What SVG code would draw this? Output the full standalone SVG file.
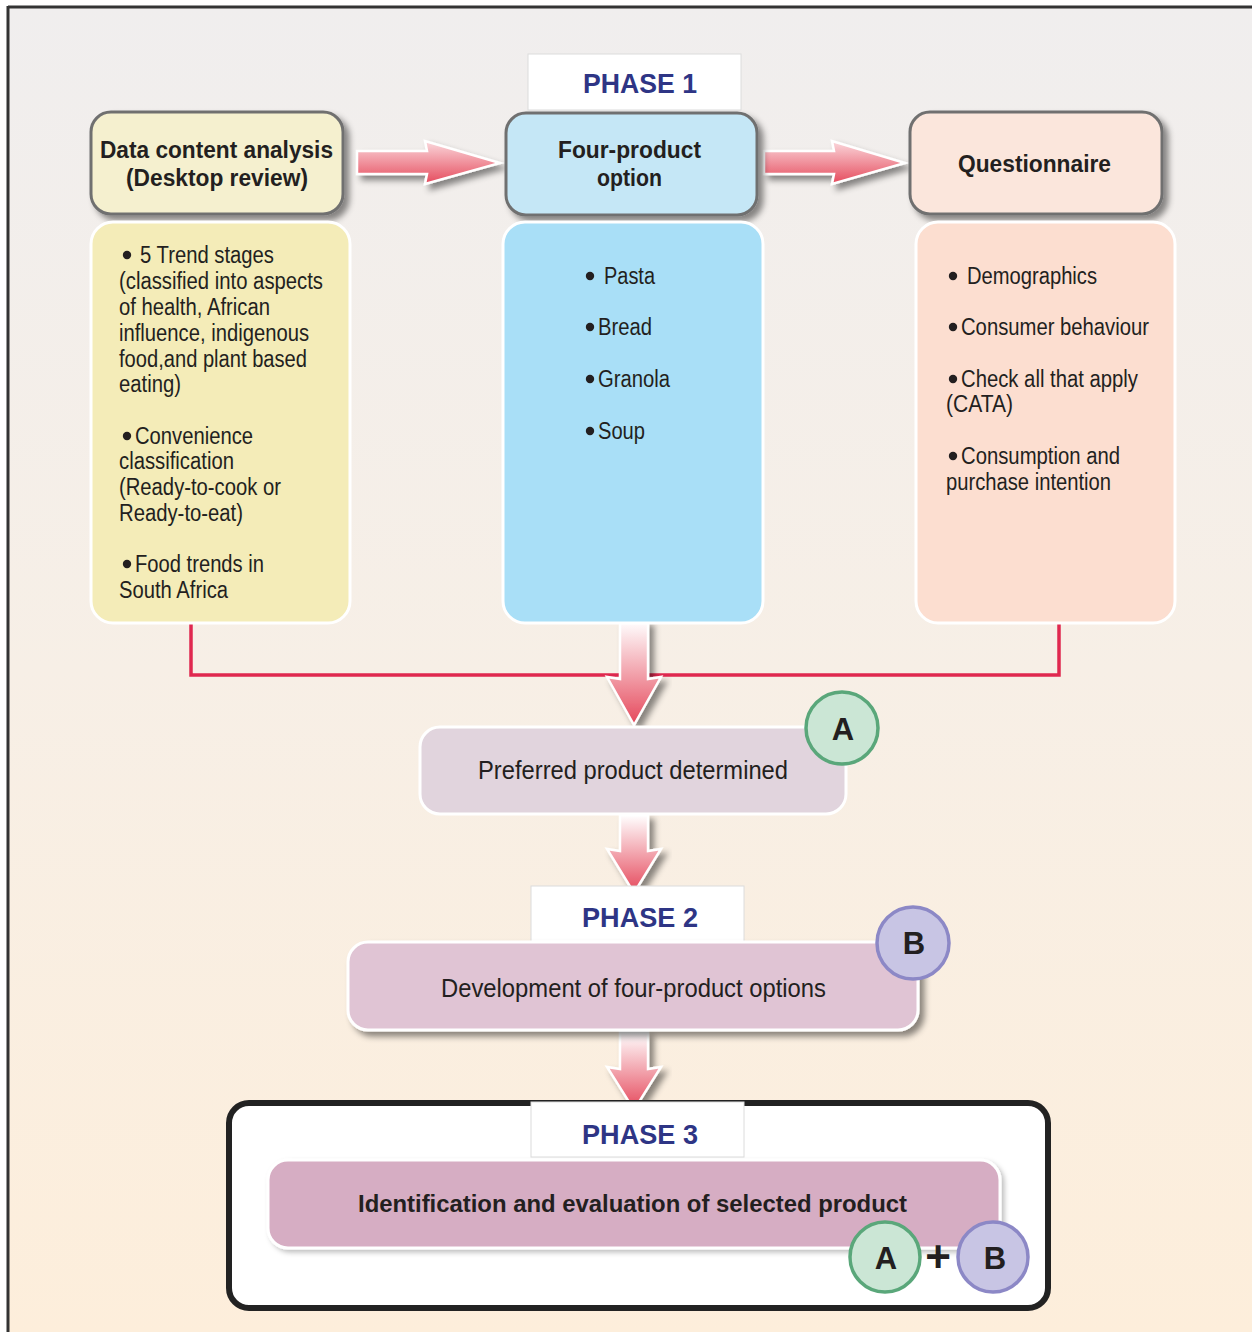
<svg xmlns="http://www.w3.org/2000/svg" width="1252" height="1332" viewBox="0 0 1252 1332">
  <defs>
    <linearGradient id="bg" x1="0" y1="0" x2="0" y2="1">
      <stop offset="0" stop-color="#f0eeee"/>
      <stop offset="0.5" stop-color="#f7efe6"/>
      <stop offset="1" stop-color="#fdeedb"/>
    </linearGradient>
    <linearGradient id="arrowH" x1="0" y1="0" x2="0" y2="1">
      <stop offset="0" stop-color="#fbd9dd"/>
      <stop offset="1" stop-color="#e54a5c"/>
    </linearGradient>
    <linearGradient id="arrowV" x1="0" y1="0" x2="0" y2="1">
      <stop offset="0" stop-color="#ffffff"/>
      <stop offset="1" stop-color="#e5475a"/>
    </linearGradient>
    <filter id="shadow" x="-10%" y="-10%" width="130%" height="140%">
      <feDropShadow dx="5" dy="5" stdDeviation="3" flood-color="#000" flood-opacity="0.45"/>
    </filter>
    <filter id="softShadow" x="-10%" y="-10%" width="130%" height="140%">
      <feDropShadow dx="3" dy="3" stdDeviation="2.5" flood-color="#000" flood-opacity="0.25"/>
    </filter>
    <style>
      .head { stroke: #707070; stroke-width: 3; filter: url(#shadow); }
      .panel { stroke: #ffffff; stroke-width: 3; }
      .step { stroke: #ffffff; stroke-width: 3; }
      .tab { fill: #ffffff; stroke: #dcdcdc; stroke-width: 1; }
      .tabText { font-family: "Liberation Sans", Arial, sans-serif; font-weight: bold; font-size: 28px; fill: #2e3585; text-anchor: middle; }
      .bold { font-family: "Liberation Sans", Arial, sans-serif; font-weight: bold; font-size: 23px; fill: #231f20; }
      .body { font-family: "Liberation Sans", Arial, sans-serif; font-size: 23px; fill: #231f20; }
      .dot { fill: #231f20; }
      .stepText { font-family: "Liberation Sans", Arial, sans-serif; font-size: 25px; fill: #231f20; }
      .arrow { stroke: #ffffff; stroke-width: 2.5; filter: url(#shadow); }
      .badgeA { fill: #cbe6d5; stroke: #5aa77a; stroke-width: 3.5; }
      .badgeB { fill: #c8c5e4; stroke: #8c88c6; stroke-width: 3.5; }
      .badgeText { font-family: "Liberation Sans", Arial, sans-serif; font-weight: bold; font-size: 31px; fill: #231f20; text-anchor: middle; }
    </style>
  </defs>

  <!-- page background and frame -->
  <rect x="0" y="0" width="1252" height="1332" fill="#ffffff"/>
  <rect x="8" y="7" width="1244" height="1325" fill="url(#bg)"/>
  <line x1="8" y1="7" x2="1252" y2="7" stroke="#333" stroke-width="3"/>
  <line x1="8" y1="6" x2="8" y2="1332" stroke="#333" stroke-width="3"/>

  <!-- connectors -->
  <g id="connectors">
    <polyline points="191,623 191,675 1059,675 1059,623" fill="none" stroke="#e0284f" stroke-width="3.5"/>
    <polygon class="arrow" fill="url(#arrowH)" points="357,151 427,151 425,141 500,163 425,184 427,174 357,174"/>
    <polygon class="arrow" fill="url(#arrowH)" points="764,151 834,151 832,141 905,163 832,184 834,174 764,174"/>
    <polygon class="arrow" fill="url(#arrowV)" points="620,621 648,621 648,679 661,677 634,725 607,677 620,679"/>
    <polygon class="arrow" fill="url(#arrowV)" points="620,815 648,815 648,851 661,849 634,893 607,849 620,851"/>
    <polygon class="arrow" fill="url(#arrowV)" points="620,1032 648,1032 648,1069 661,1067 634,1110 607,1067 620,1069"/>
  </g>

  <!-- Phase 1 -->
  <g id="phase1-label">
    <rect class="tab" x="528" y="54" width="213" height="56"/>
    <text class="tabText" x="640" y="93" textLength="114" lengthAdjust="spacingAndGlyphs">PHASE 1</text>
  </g>

  <g id="data-analysis">
    <rect class="head" x="91" y="112" width="252" height="102" rx="20" fill="#f5f0cf"/>
    <text class="bold" x="100" y="158" textLength="233" lengthAdjust="spacingAndGlyphs">Data content analysis</text>
    <text class="bold" x="126" y="186" textLength="182" lengthAdjust="spacingAndGlyphs">(Desktop review)</text>
  </g>

  <g id="four-product">
    <rect class="head" x="506" y="113" width="251" height="102" rx="20" fill="#c5e7f6"/>
    <text class="bold" x="558" y="158" textLength="143" lengthAdjust="spacingAndGlyphs">Four-product</text>
    <text class="bold" x="597" y="186" textLength="65" lengthAdjust="spacingAndGlyphs">option</text>
  </g>

  <g id="questionnaire">
    <rect class="head" x="910" y="112" width="252" height="102" rx="20" fill="#fbe6dc"/>
    <text class="bold" x="958" y="172" textLength="153" lengthAdjust="spacingAndGlyphs">Questionnaire</text>
  </g>

  <g id="data-analysis-items">
    <rect class="panel" x="91" y="222" width="259" height="401" rx="22" fill="#f4ecb8"/>
    <circle class="dot" cx="127" cy="255" r="4.2"/>
    <text class="body" x="140" y="263" textLength="134" lengthAdjust="spacingAndGlyphs">5 Trend stages</text>
    <text class="body" x="119" y="289" textLength="204" lengthAdjust="spacingAndGlyphs">(classified into aspects</text>
    <text class="body" x="119" y="315" textLength="151" lengthAdjust="spacingAndGlyphs">of health, African</text>
    <text class="body" x="119" y="341" textLength="190" lengthAdjust="spacingAndGlyphs">influence, indigenous</text>
    <text class="body" x="119" y="367" textLength="188" lengthAdjust="spacingAndGlyphs">food,and plant based</text>
    <text class="body" x="119" y="392" textLength="62" lengthAdjust="spacingAndGlyphs">eating)</text>
    <circle class="dot" cx="127" cy="436" r="4.2"/>
    <text class="body" x="135" y="444" textLength="118" lengthAdjust="spacingAndGlyphs">Convenience</text>
    <text class="body" x="119" y="469" textLength="115" lengthAdjust="spacingAndGlyphs">classification</text>
    <text class="body" x="119" y="495" textLength="162" lengthAdjust="spacingAndGlyphs">(Ready-to-cook or</text>
    <text class="body" x="119" y="521" textLength="124" lengthAdjust="spacingAndGlyphs">Ready-to-eat)</text>
    <circle class="dot" cx="127" cy="564" r="4.2"/>
    <text class="body" x="135" y="572" textLength="129" lengthAdjust="spacingAndGlyphs">Food trends in</text>
    <text class="body" x="119" y="598" textLength="109" lengthAdjust="spacingAndGlyphs">South Africa</text>
  </g>

  <g id="four-product-items">
    <rect class="panel" x="503" y="222" width="260" height="401" rx="22" fill="#a9dff7"/>
    <circle class="dot" cx="590" cy="276" r="4.2"/>
    <text class="body" x="604" y="284" textLength="51" lengthAdjust="spacingAndGlyphs">Pasta</text>
    <circle class="dot" cx="590" cy="327" r="4.2"/>
    <text class="body" x="598" y="335" textLength="54" lengthAdjust="spacingAndGlyphs">Bread</text>
    <circle class="dot" cx="590" cy="379" r="4.2"/>
    <text class="body" x="598" y="387" textLength="72" lengthAdjust="spacingAndGlyphs">Granola</text>
    <circle class="dot" cx="590" cy="431" r="4.2"/>
    <text class="body" x="598" y="439" textLength="47" lengthAdjust="spacingAndGlyphs">Soup</text>
  </g>

  <g id="questionnaire-items">
    <rect class="panel" x="916" y="222" width="259" height="401" rx="22" fill="#fcded0"/>
    <circle class="dot" cx="953" cy="276" r="4.2"/>
    <text class="body" x="967" y="284" textLength="130" lengthAdjust="spacingAndGlyphs">Demographics</text>
    <circle class="dot" cx="953" cy="327" r="4.2"/>
    <text class="body" x="961" y="335" textLength="188" lengthAdjust="spacingAndGlyphs">Consumer behaviour</text>
    <circle class="dot" cx="953" cy="379" r="4.2"/>
    <text class="body" x="961" y="387" textLength="177" lengthAdjust="spacingAndGlyphs">Check all that apply</text>
    <text class="body" x="946" y="412" textLength="67" lengthAdjust="spacingAndGlyphs">(CATA)</text>
    <circle class="dot" cx="953" cy="456" r="4.2"/>
    <text class="body" x="961" y="464" textLength="159" lengthAdjust="spacingAndGlyphs">Consumption and</text>
    <text class="body" x="946" y="490" textLength="165" lengthAdjust="spacingAndGlyphs">purchase intention</text>
  </g>

  <!-- result of phase 1 -->
  <g id="preferred-product">
    <rect class="step" x="420" y="727" width="426" height="87" rx="20" fill="#e1d4dd"/>
    <text class="stepText" x="478" y="779" textLength="310" lengthAdjust="spacingAndGlyphs">Preferred product determined</text>
  </g>
  <g id="badge-a">
    <circle class="badgeA" cx="842" cy="728" r="36"/>
    <text class="badgeText" x="843" y="740">A</text>
  </g>

  <!-- Phase 2 -->
  <g id="phase2-label">
    <rect class="tab" x="531" y="886" width="213" height="56"/>
    <text class="tabText" x="640" y="927" textLength="116" lengthAdjust="spacingAndGlyphs">PHASE 2</text>
  </g>
  <g id="development">
    <rect class="step" x="348" y="942" width="570" height="88" rx="20" fill="#e0c4d4" filter="url(#shadow)"/>
    <text class="stepText" x="441" y="997" textLength="385" lengthAdjust="spacingAndGlyphs">Development of four-product options</text>
  </g>
  <g id="badge-b">
    <circle class="badgeB" cx="913" cy="943" r="36"/>
    <text class="badgeText" x="914" y="954">B</text>
  </g>

  <!-- Phase 3 -->
  <g id="phase3-frame">
    <rect x="229" y="1103" width="819" height="205" rx="20" fill="#ffffff" stroke="#222222" stroke-width="6"/>
  </g>
  <g id="phase3-label">
    <rect class="tab" x="531" y="1102" width="213" height="55"/>
    <text class="tabText" x="640" y="1144" textLength="116" lengthAdjust="spacingAndGlyphs">PHASE 3</text>
  </g>
  <g id="evaluation">
    <rect class="step" x="268" y="1160" width="732" height="88" rx="20" fill="#d6adc3" filter="url(#softShadow)"/>
    <text class="bold" x="358" y="1212" textLength="549" lengthAdjust="spacingAndGlyphs">Identification and evaluation of selected product</text>
  </g>
  <g id="badge-a-plus-b">
    <circle class="badgeA" cx="885" cy="1257" r="35"/>
    <text class="badgeText" x="886" y="1269">A</text>
    <text class="badgeText" x="938" y="1272" style="font-size:44px">+</text>
    <circle class="badgeB" cx="993" cy="1257" r="35"/>
    <text class="badgeText" x="995" y="1269">B</text>
  </g>
</svg>
